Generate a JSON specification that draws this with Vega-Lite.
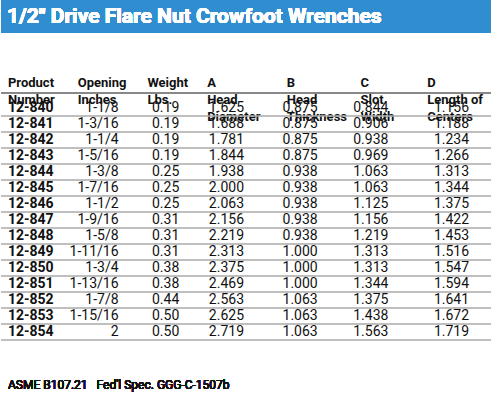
{
  "$schema": "https://vega.github.io/schema/vega-lite/v6.json",
  "width": 492,
  "height": 407,
  "padding": 0,
  "autosize": {"type": "fit", "contains": "padding"},
  "background": "white",
  "config": {"view": {"stroke": null}, "text": {"font": "Roboto", "fontSize": 14, "baseline": "middle", "color": "#111"}},
  "datasets": {
    "rows": [
      {"Product": "12-840", "Opening": "1-1/8", "Weight": "0.19", "A": "1.625", "B": "0.875", "C": "0.844", "D": "1.156"},
      {"Product": "12-841", "Opening": "1-3/16", "Weight": "0.19", "A": "1.688", "B": "0.875", "C": "0.906", "D": "1.188"},
      {"Product": "12-842", "Opening": "1-1/4", "Weight": "0.19", "A": "1.781", "B": "0.875", "C": "0.938", "D": "1.234"},
      {"Product": "12-843", "Opening": "1-5/16", "Weight": "0.19", "A": "1.844", "B": "0.875", "C": "0.969", "D": "1.266"},
      {"Product": "12-844", "Opening": "1-3/8", "Weight": "0.25", "A": "1.938", "B": "0.938", "C": "1.063", "D": "1.313"},
      {"Product": "12-845", "Opening": "1-7/16", "Weight": "0.25", "A": "2.000", "B": "0.938", "C": "1.063", "D": "1.344"},
      {"Product": "12-846", "Opening": "1-1/2", "Weight": "0.25", "A": "2.063", "B": "0.938", "C": "1.125", "D": "1.375"},
      {"Product": "12-847", "Opening": "1-9/16", "Weight": "0.31", "A": "2.156", "B": "0.938", "C": "1.156", "D": "1.422"},
      {"Product": "12-848", "Opening": "1-5/8", "Weight": "0.31", "A": "2.219", "B": "0.938", "C": "1.219", "D": "1.453"},
      {"Product": "12-849", "Opening": "1-11/16", "Weight": "0.31", "A": "2.313", "B": "1.000", "C": "1.313", "D": "1.516"},
      {"Product": "12-850", "Opening": "1-3/4", "Weight": "0.38", "A": "2.375", "B": "1.000", "C": "1.313", "D": "1.547"},
      {"Product": "12-851", "Opening": "1-13/16", "Weight": "0.38", "A": "2.469", "B": "1.000", "C": "1.344", "D": "1.594"},
      {"Product": "12-852", "Opening": "1-7/8", "Weight": "0.44", "A": "2.563", "B": "1.063", "C": "1.375", "D": "1.641"},
      {"Product": "12-853", "Opening": "1-15/16", "Weight": "0.50", "A": "2.625", "B": "1.063", "C": "1.438", "D": "1.672"},
      {"Product": "12-854", "Opening": "2", "Weight": "0.50", "A": "2.719", "B": "1.063", "C": "1.563", "D": "1.719"}
    ],
    "headers": [
      {"h": "Product\nNumber", "pos": 7},
      {"h": "Opening\nInches", "pos": 77},
      {"h": "Weight\nLbs.", "pos": 147},
      {"h": "A\nHead\nDiameter", "pos": 207},
      {"h": "B\nHead\nThickness", "pos": 287},
      {"h": "C\nSlot\nWidth", "pos": 361},
      {"h": "D\nLength of\nCenters", "pos": 428}
    ]
  },
  "data": {"name": "rows"},
  "resolve": {"scale": {"y": "independent"}},
  "layer": [
    {
      "mark": {"type": "rect", "color": "#2f8dd0"},
      "encoding": {
        "x": {"datum": 0, "type": "quantitative", "scale": {"domain": [0, 492]}, "axis": null},
        "x2": {"datum": 492},
        "y": {"datum": 0, "type": "quantitative", "scale": {"domain": [0, 407], "reverse": true}, "axis": null},
        "y2": {"datum": 33}
      }
    },
    {
      "mark": {"type": "text", "text": "1/2\u2033 Drive Flare Nut Crowfoot Wrenches", "color": "white", "fontSize": 21, "fontWeight": "bold", "align": "left"},
      "encoding": {
        "x": {"datum": 6, "type": "quantitative", "scale": {"domain": [0, 492]}, "axis": null},
        "y": {"datum": 17, "type": "quantitative", "scale": {"domain": [0, 407], "reverse": true}, "axis": null}
      }
    },
    {
      "data": {"name": "headers"},
      "mark": {"type": "text", "fontWeight": "bold", "fontSize": 13, "align": "left", "baseline": "bottom", "lineHeight": 17, "lineBreak": "\n"},
      "encoding": {
        "x": {"field": "pos", "type": "quantitative", "scale": {"domain": [0, 492]}, "axis": null},
        "y": {"datum": 90, "type": "quantitative", "scale": {"domain": [0, 407], "reverse": true}, "axis": null},
        "text": {"field": "h"}
      }
    },
    {
      "mark": {"type": "rule", "color": "#888", "strokeWidth": 2},
      "encoding": {
        "x": {"datum": 0, "type": "quantitative", "scale": {"domain": [0, 492]}, "axis": null},
        "x2": {"datum": 492},
        "y": {"datum": 93, "type": "quantitative", "scale": {"domain": [0, 407], "reverse": true}, "axis": null}
      }
    },
    {
      "mark": {"type": "rule", "color": "#aaa", "strokeWidth": 1.5, "yOffset": 8},
      "encoding": {
        "x": {"datum": 0, "type": "quantitative", "scale": {"domain": [0, 492]}, "axis": null},
        "x2": {"datum": 492},
        "y": {"field": "Product", "type": "ordinal", "scale": {"type": "band", "paddingInner": 0, "paddingOuter": 0, "range": [100, 340]}, "axis": null}
      }
    },
    {
      "mark": {"type": "text", "fontWeight": "bold", "align": "left"},
      "encoding": {
        "x": {"datum": 7, "type": "quantitative", "scale": {"domain": [0, 492]}, "axis": null},
        "y": {"field": "Product", "type": "ordinal", "scale": {"type": "band", "paddingInner": 0, "paddingOuter": 0, "range": [100, 340]}, "axis": null},
        "text": {"field": "Product"}
      }
    },
    {
      "mark": {"type": "text", "align": "right"},
      "encoding": {
        "x": {"datum": 118, "type": "quantitative", "scale": {"domain": [0, 492]}, "axis": null},
        "y": {"field": "Product", "type": "ordinal", "scale": {"type": "band", "paddingInner": 0, "paddingOuter": 0, "range": [100, 340]}, "axis": null},
        "text": {"field": "Opening"}
      }
    },
    {
      "mark": {"type": "text", "align": "right"},
      "encoding": {
        "x": {"datum": 179, "type": "quantitative", "scale": {"domain": [0, 492]}, "axis": null},
        "y": {"field": "Product", "type": "ordinal", "scale": {"type": "band", "paddingInner": 0, "paddingOuter": 0, "range": [100, 340]}, "axis": null},
        "text": {"field": "Weight"}
      }
    },
    {
      "mark": {"type": "text", "align": "right"},
      "encoding": {
        "x": {"datum": 244, "type": "quantitative", "scale": {"domain": [0, 492]}, "axis": null},
        "y": {"field": "Product", "type": "ordinal", "scale": {"type": "band", "paddingInner": 0, "paddingOuter": 0, "range": [100, 340]}, "axis": null},
        "text": {"field": "A"}
      }
    },
    {
      "mark": {"type": "text", "align": "right"},
      "encoding": {
        "x": {"datum": 318, "type": "quantitative", "scale": {"domain": [0, 492]}, "axis": null},
        "y": {"field": "Product", "type": "ordinal", "scale": {"type": "band", "paddingInner": 0, "paddingOuter": 0, "range": [100, 340]}, "axis": null},
        "text": {"field": "B"}
      }
    },
    {
      "mark": {"type": "text", "align": "right"},
      "encoding": {
        "x": {"datum": 389, "type": "quantitative", "scale": {"domain": [0, 492]}, "axis": null},
        "y": {"field": "Product", "type": "ordinal", "scale": {"type": "band", "paddingInner": 0, "paddingOuter": 0, "range": [100, 340]}, "axis": null},
        "text": {"field": "C"}
      }
    },
    {
      "mark": {"type": "text", "align": "right"},
      "encoding": {
        "x": {"datum": 470, "type": "quantitative", "scale": {"domain": [0, 492]}, "axis": null},
        "y": {"field": "Product", "type": "ordinal", "scale": {"type": "band", "paddingInner": 0, "paddingOuter": 0, "range": [100, 340]}, "axis": null},
        "text": {"field": "D"}
      }
    },
    {
      "mark": {"type": "text", "text": "ASME B107.21", "fontSize": 12, "align": "left"},
      "encoding": {
        "x": {"datum": 7, "type": "quantitative", "scale": {"domain": [0, 492]}, "axis": null},
        "y": {"datum": 385, "type": "quantitative", "scale": {"domain": [0, 407], "reverse": true}, "axis": null}
      }
    },
    {
      "mark": {"type": "text", "text": "Fed'l Spec. GGG-C-1507b", "fontSize": 12, "align": "left"},
      "encoding": {
        "x": {"datum": 96, "type": "quantitative", "scale": {"domain": [0, 492]}, "axis": null},
        "y": {"datum": 385, "type": "quantitative", "scale": {"domain": [0, 407], "reverse": true}, "axis": null}
      }
    }
  ]
}
